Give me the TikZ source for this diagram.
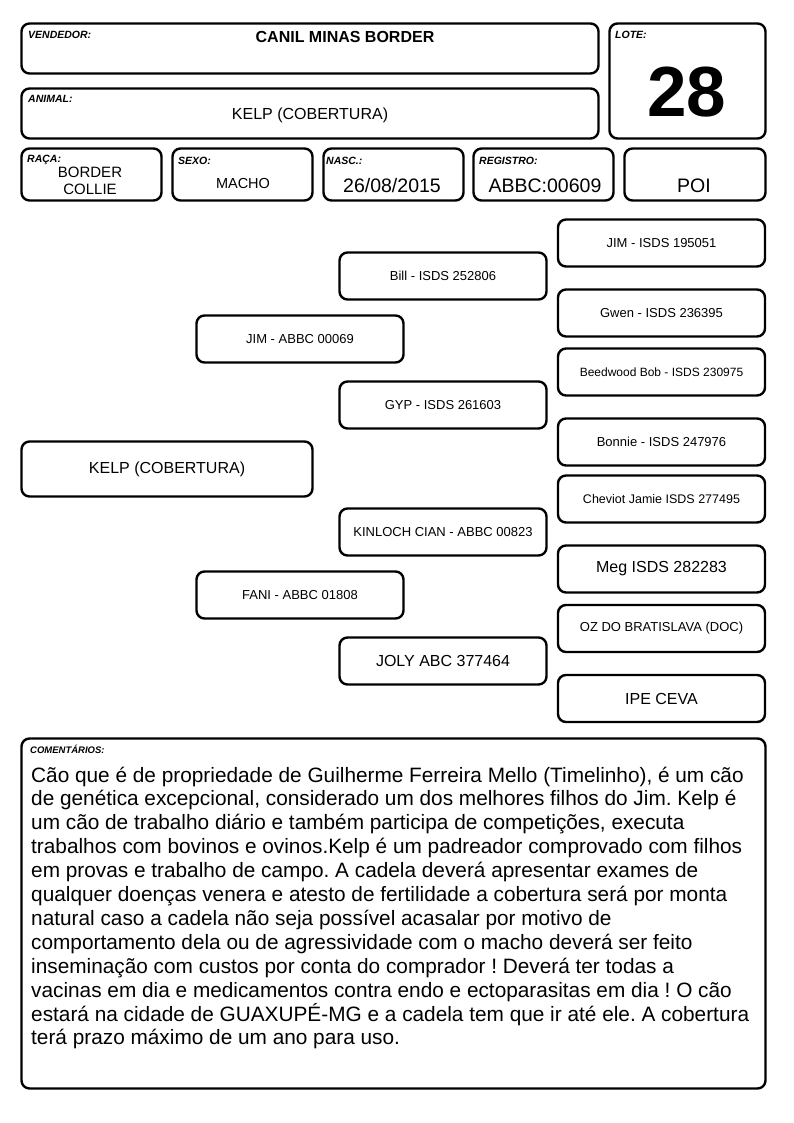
\documentclass[tikz,border=0pt]{standalone}
\usepackage{fontspec}
\setmainfont{Liberation Sans}
\frenchspacing
\newcommand\fsz[1]{\fontsize{#1}{#1}\selectfont}
\begin{document}
\begin{tikzpicture}[x=1pt,y=-1pt,
  bx/.style={draw, line width=2.4pt, rounded corners=8pt, inner sep=0pt, outer sep=0pt},
  lbl/.style={anchor=base west, inner sep=0pt, font=\fsz{10.5}\bfseries\itshape},
  val/.style={anchor=base, inner sep=0pt},
  ped/.style={bx, minimum width=207pt, minimum height=47pt, align=center}]
\useasboundingbox[fill=white] (0,0) rectangle (794,1123);
% header boxes
\node[bx, minimum width=577pt, minimum height=50pt] (vend) at (310,48.5) {};
\node[bx, minimum width=577pt, minimum height=50pt] (anim) at (310,113.5) {};
\node[bx, minimum width=156pt, minimum height=115pt] (lote) at (687.5,81) {};
\node[bx, minimum width=140pt, minimum height=52pt] (raca) at (91.5,174.5) {};
\node[bx, minimum width=140pt, minimum height=52pt] (sexo) at (242.5,174.5) {};
\node[bx, minimum width=140pt, minimum height=52pt] (nasc) at (393.5,174.5) {};
\node[bx, minimum width=140pt, minimum height=52pt] (regi) at (543.5,174.5) {};
\node[bx, minimum width=141pt, minimum height=52pt] (poi) at (695,174.5) {};
% header labels
\node[lbl] (lvend) at (28,39) {VENDEDOR:};
\node[val, font=\fsz{16}\bfseries] (tvend) at (345,43) {CANIL MINAS BORDER};
\node[lbl] (lanim) at (28,103) {ANIMAL:};
\node[val, font=\fsz{16}] (tanim) at (310,120) {KELP (COBERTURA)};
\node[lbl] (llote) at (615,39) {LOTE:};
\node[val, font=\fsz{71}\bfseries] (tlote) at (687,117) {28};
\node[lbl] (lraca) at (27,163) {RAÇA:};
\node[val, font=\fsz{15}] (traca1) at (90,178) {BORDER};
\node[val, font=\fsz{15}] (traca2) at (90,195) {COLLIE};
\node[lbl] (lsexo) at (178,165) {SEXO:};
\node[val, font=\fsz{14.5}] (tsexo) at (243,189) {MACHO};
\node[lbl] (lnasc) at (326,165) {NASC.:};
\node[val, font=\fsz{19.5}] (tnasc) at (392,193) {26/08/2015};
\node[lbl] (lregi) at (479,165) {REGISTRO:};
\node[val, font=\fsz{19.5}] (tregi) at (545,193) {ABBC:00609};
\node[val, font=\fsz{19.5}] (tpoi) at (694,193) {POI};
% pedigree
\node[bx, minimum width=291pt, minimum height=55pt, font=\fsz{16}] (kelp) at (167,469) {KELP (COBERTURA)};
\node[ped, font=\fsz{13}] (jim) at (300,339) {JIM - ABBC 00069};
\node[ped, font=\fsz{13}] (fani) at (300,595) {FANI - ABBC 01808};
\node[ped, font=\fsz{13}] (bill) at (443,276) {Bill - ISDS 252806};
\node[ped, font=\fsz{13}] (gyp) at (443,405) {GYP - ISDS 261603};
\node[ped, font=\fsz{13}] (kin) at (443,532) {KINLOCH CIAN - ABBC 00823};
\node[ped, font=\fsz{16}] (joly) at (443,661) {JOLY ABC 377464};
\node[ped, font=\fsz{13}] (jimi) at (661.5,243) {JIM - ISDS 195051};
\node[ped, font=\fsz{13}] (gwen) at (661.5,313) {Gwen - ISDS 236395};
\node[ped, font=\fsz{12}] (bob) at (661.5,372) {Beedwood Bob - ISDS 230975};
\node[ped, font=\fsz{13}] (bonn) at (661.5,442) {Bonnie - ISDS 247976};
\node[ped, font=\fsz{12.5}] (chev) at (661.5,499) {Cheviot Jamie ISDS 277495};
\node[ped, font=\fsz{16}] (meg) at (661.5,569) {Meg ISDS 282283};
\node[ped, font=\fsz{13}] (oz) at (661.5,628.5) {OZ DO BRATISLAVA (DOC)};
\node[ped, font=\fsz{16}] (ipe) at (661.5,698.5) {IPE CEVA};
% comments
\node[bx, minimum width=744pt, minimum height=350pt] (com) at (393.5,913.5) {};
\node[lbl, font=\fsz{9.5}\bfseries\itshape] (lcom) at (30,753) {COMENTÁRIOS:};
\foreach \t [count=\i] in {
 {Cão que é de propriedade de Guilherme Ferreira Mello (Timelinho), é um cão},
 {de genética excepcional, considerado um dos melhores filhos do Jim. Kelp é},
 {um cão de trabalho diário e também participa de competições, executa},
 {trabalhos com bovinos e ovinos.Kelp é um padreador comprovado com filhos},
 {em provas e trabalho de campo. A cadela deverá apresentar exames de},
 {qualquer doenças venera e atesto de fertilidade a cobertura será por monta},
 {natural caso a cadela não seja possível acasalar por motivo de},
 {comportamento dela ou de agressividade com o macho deverá ser feito},
 {inseminação com custos por conta do comprador ! Deverá ter todas a},
 {vacinas em dia e medicamentos contra endo e ectoparasitas em dia ! O cão},
 {estará na cidade de GUAXUPÉ-MG e a cadela tem que ir até ele. A cobertura},
 {terá prazo máximo de um ano para uso.}}
 \node[anchor=base west, inner sep=0pt, font=\fsz{20.8}] (c\i) at (31,{782+(\i-1)*23.9}) {\t};
\end{tikzpicture}
\end{document}
